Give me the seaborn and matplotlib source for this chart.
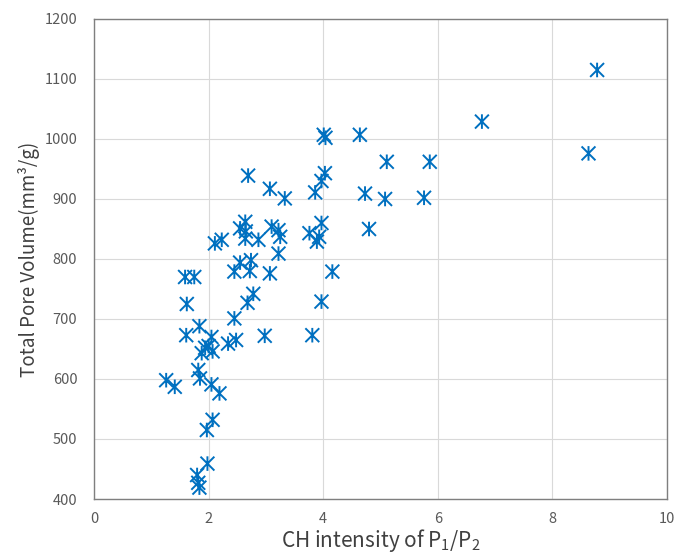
import numpy as np
import pandas as pd
import matplotlib
matplotlib.use("Agg")
import matplotlib.pyplot as plt
from matplotlib.path import Path
import seaborn as sns

# Points.
ch_ratio = [8.78, 8.63, 6.77, 5.86, 5.76, 5.11, 5.08, 4.64, 4.73, 4.80,
            4.01, 4.04, 4.03, 3.97, 3.86, 3.97, 3.76, 3.93, 3.89, 4.16,
            3.97, 3.81, 3.33, 3.07, 2.69, 2.64, 2.55, 2.65, 2.64, 2.87,
            3.10, 3.22, 3.25, 3.22, 2.55, 2.74, 2.45, 2.72, 3.07, 2.78,
            2.68, 2.45, 2.98, 2.48, 2.34, 2.11, 2.23, 1.59, 1.75, 1.62,
            1.84, 1.61, 2.05, 1.88, 1.94, 2.00, 2.07, 1.82, 1.85, 1.26,
            1.41, 2.05, 2.19, 2.07, 1.97, 1.98, 1.80, 1.82, 1.84]
pore_volume = [1115, 976, 1029, 962, 902, 962, 900, 1007, 909, 850,
               1007, 1002, 943, 930, 911, 860, 843, 837, 829, 779,
               729, 673, 901, 917, 939, 862, 851, 846, 834, 832,
               854, 848, 837, 809, 794, 798, 779, 780, 776, 742,
               727, 701, 672, 665, 659, 826, 832, 770, 770, 725,
               688, 673, 670, 643, 652, 655, 646, 615, 601, 598,
               587, 591, 576, 532, 515, 459, 440, 427, 419]

x_ticks = [0, 2, 4, 6, 8, 10]
y_ticks = [400, 500, 600, 700, 800, 900, 1000, 1100, 1200]

df = pd.DataFrame({"ch": ch_ratio, "tpv": pore_volume})

sns.set_style("white")
plt.rcParams["font.family"] = ["Noto Sans CJK JP", "DejaVu Sans"]
plt.rcParams["mathtext.fontset"] = "custom"
plt.rcParams["mathtext.rm"] = "Noto Sans CJK JP"

# Excel style asterisk: an X with a vertical bar through it
star = Path([(-1, -1), (1, 1), (-1, 1), (1, -1), (0, -1.05), (0, 1.05)],
            [Path.MOVETO, Path.LINETO, Path.MOVETO, Path.LINETO,
             Path.MOVETO, Path.LINETO])

fig = plt.figure(figsize=(6.93, 5.55), dpi=100)
ax = fig.add_axes([0.1356, 0.1009, 0.8269, 0.8649])

sns.scatterplot(data=df, x="ch", y="tpv", ax=ax, marker=star, s=110,
                color="#0070C0", edgecolor="#0070C0", facecolor="none",
                linewidth=1.4, zorder=3)

ax.set_xlim(0, 10)
ax.set_ylim(400, 1200)
ax.set_xticks(x_ticks)
ax.set_yticks(y_ticks)
ax.grid(True, color="#D9D9D9", linewidth=0.8)
ax.set_axisbelow(True)
for sp in ax.spines.values():
    sp.set_color("#7F7F7F")
    sp.set_linewidth(1.0)
ax.tick_params(length=0, labelsize=10.5, labelcolor="#595959")
ax.tick_params(axis="y", pad=12)
ax.tick_params(axis="x", pad=9)

ax.set_xlabel(r"CH intensity of P$_\mathrm{1}$/P$_\mathrm{2}$", fontsize=15,
              color="#404040", labelpad=1)
ax.set_ylabel("Total Pore Volume(mm³/g)", fontsize=13.5, color="#404040",
              labelpad=3)

fig.savefig("out.png", dpi=100)
